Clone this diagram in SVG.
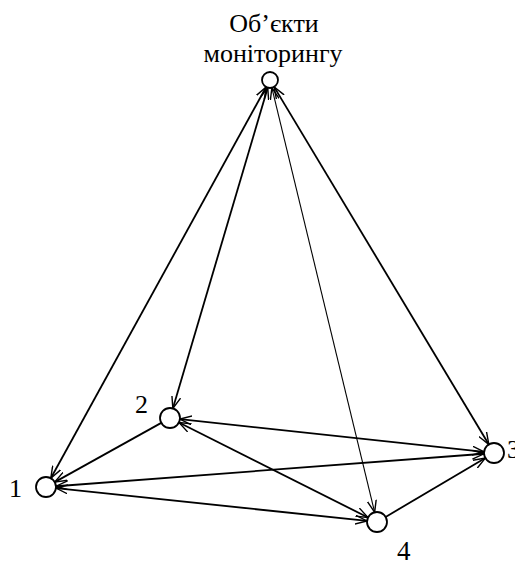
<svg xmlns="http://www.w3.org/2000/svg" width="515" height="565" viewBox="0 0 515 565">
<style>
.node{fill:#fff;stroke:#000;stroke-width:1.8}
.lbl{font-family:"Liberation Serif","Times New Roman",serif;fill:#000}
.e{stroke:#000;stroke-width:1.8;fill:none}
.thin{stroke-width:1.1}
.bi{marker-start:url(#ah);marker-end:url(#ah)}
.uni{marker-end:url(#ah)}
</style>
<defs>
<marker id="ah" markerUnits="userSpaceOnUse" viewBox="0 0 12 10" refX="12" refY="5" markerWidth="12" markerHeight="10" orient="auto-start-reverse">
<path d="M0,0.5 L12,5 L0,9.5" fill="none" stroke="#000" stroke-width="1.4"/>
</marker>
</defs>
<rect width="515" height="565" fill="#fff"/>
<g id="connectors">
<line class="e bi" x1="266.14" y1="87.01" x2="50.82" y2="478.24"/>
<line class="e bi" x1="267.73" y1="87.67" x2="172.84" y2="408.41"/>
<line class="e thin bi" x1="271.88" y1="87.78" x2="374.65" y2="512.28"/>
<line class="e bi" x1="274.12" y1="86.86" x2="488.85" y2="444.43"/>
<line class="e uni" x1="161.26" y1="422.86" x2="54.74" y2="482.14"/>
<line class="e bi" x1="179.94" y1="419.07" x2="484.06" y2="451.93"/>
<line class="e bi" x1="178.93" y1="422.49" x2="368.07" y2="517.51"/>
<line class="e bi" x1="55.97" y1="486.24" x2="484.03" y2="453.76"/>
<line class="e bi" x1="55.95" y1="488.05" x2="367.05" y2="520.95"/>
<line class="e uni" x1="385.62" y1="516.92" x2="485.38" y2="458.08"/>
</g>
<g id="node-top">
<circle class="node" cx="270" cy="80" r="8"/>
<text class="lbl" x="274" y="32" font-size="26" text-anchor="middle">Об’єкти</text>
<text class="lbl" x="273" y="62" font-size="26" text-anchor="middle">моніторингу</text>
</g>
<g id="node-1">
<circle class="node" cx="46" cy="487" r="10"/>
<text class="lbl" x="9" y="497" font-size="26">1</text>
</g>
<g id="node-2">
<circle class="node" cx="170" cy="418" r="10"/>
<text class="lbl" x="135" y="413" font-size="26">2</text>
</g>
<g id="node-3">
<circle class="node" cx="494" cy="453" r="10"/>
<text class="lbl" x="507" y="458" font-size="26">3</text>
</g>
<g id="node-4">
<circle class="node" cx="377" cy="522" r="10"/>
<text class="lbl" x="397" y="560" font-size="27">4</text>
</g>
</svg>
